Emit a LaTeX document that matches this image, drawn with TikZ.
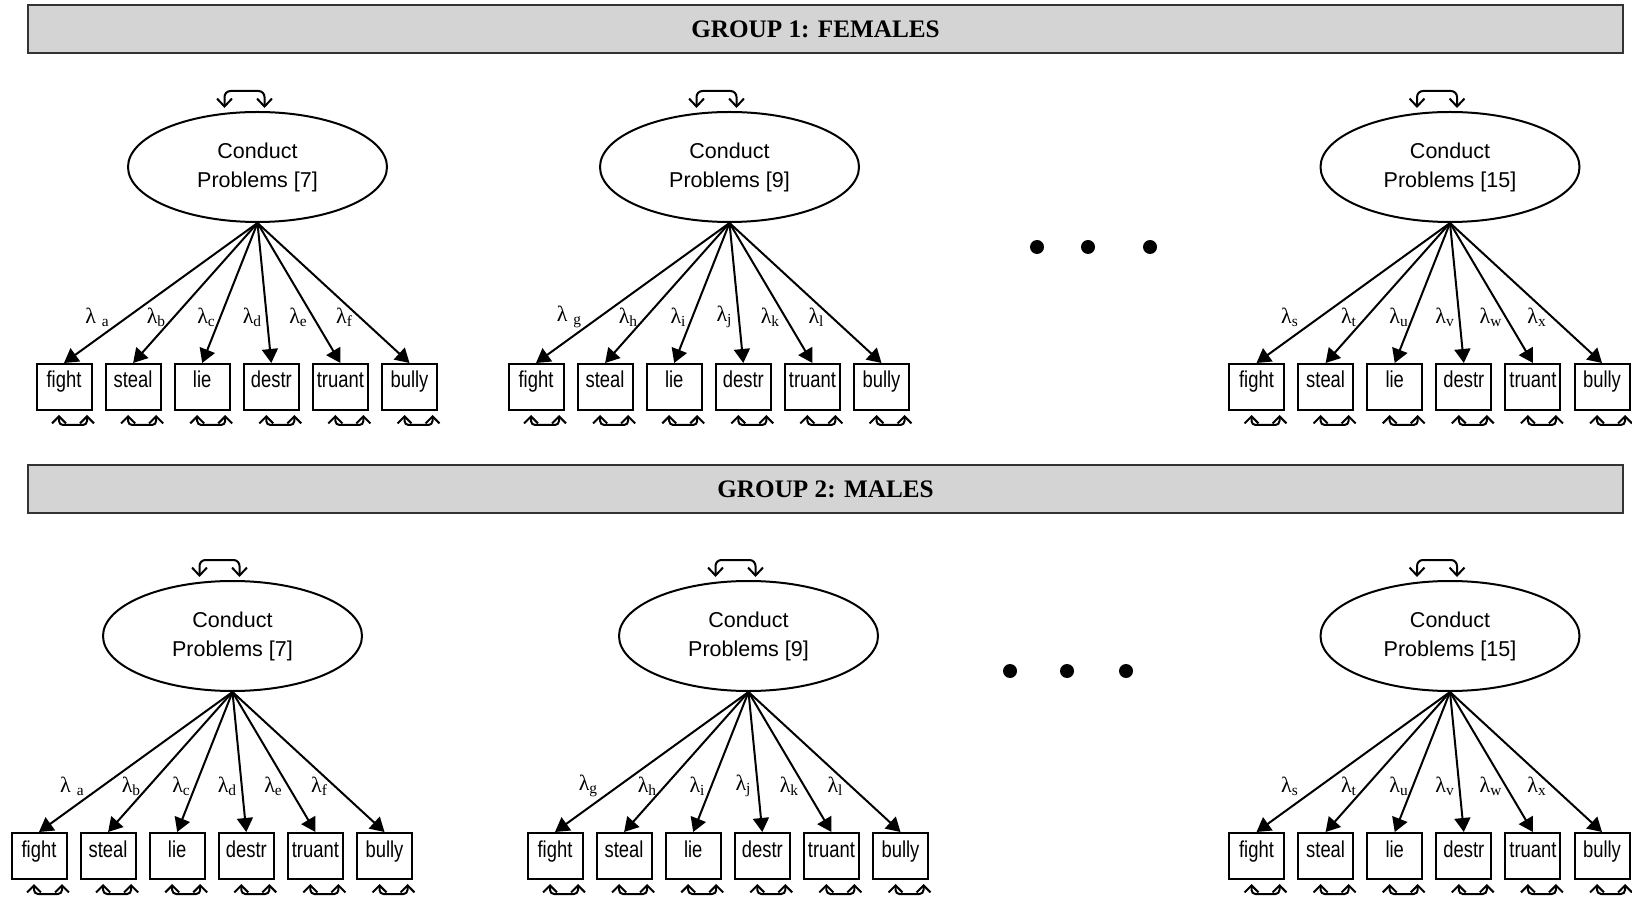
\documentclass[tikz,border=0pt]{standalone}
\usepackage{fontspec}
\setmainfont{Liberation Serif}
\newfontfamily\arialf{Liberation Sans}
\newfontfamily\narrowf[FakeStretch=0.8]{Liberation Sans}
\usetikzlibrary{shapes.geometric,arrows.meta,calc}
\tikzset{
 latent/.style={ellipse,draw,line width=1pt,minimum width=129.5pt,minimum height=55pt,inner sep=0pt,align=center,font=\arialf\fontsize{10.75}{14.5}\selectfont},
 obs/.style={rectangle,draw,line width=1pt,minimum width=27.5pt,minimum height=23pt,inner sep=0pt,text height=5.5pt,text depth=4.5pt,font=\narrowf\fontsize{11.5}{13}\selectfont},
 load/.style={line width=1pt,-{Triangle[length=7pt,width=8pt]}},
 varloop/.style={line width=1pt,rounded corners=3pt,{Straight Barb[length=4pt,width=7.5pt]}-{Straight Barb[length=4pt,width=7.5pt]}},
 errloop/.style={line width=1pt,rounded corners=2pt,{Straight Barb[length=3.5pt,width=7pt]}-{Straight Barb[length=3.5pt,width=7pt]}},
 lam/.style={font=\fontsize{11}{13}\selectfont,inner sep=0pt},
 banner/.style={draw=black!80,line width=1.2pt,fill=black!17,minimum width=797.5pt,minimum height=24pt,inner sep=0pt,font=\bfseries\fontsize{12.6}{14}\selectfont},
 blob/.style={circle,fill=black,inner sep=0pt,minimum size=7pt},
}
\newcommand\cpblock[5]{%
 \begin{scope}[shift={(#2,#3)}]
 \node[latent] (#1e) at (0,0) {Conduct\\Problems [#4]};
 \draw[varloop] ($(#1e.north)+(-33,-3)$) -- ++(0,-17) -- ++(40,0) -- ++(0,17);
 \foreach \lab [count=\i from 0] in {fight,steal,lie,destr,truant,bully}{
  \node[obs] (#1b\i) at ({-193.5+69.1*\i},220) {\lab};
  \draw[load] (#1e.south) -- (#1b\i.north);
  \draw[errloop] ($(#1b\i.south)+(-5,4)$) -- ++(0,10) -- ++(28,0) -- ++(0,-10);
 }
 \foreach \lsub [count=\i from 0] in {#5}{
  \pgfmathsetmacro\lx{{-160,-101,-51,-5,41,87}[\i]}
  \node[lam] (#1l\i) at (\lx,150) {λ\textsubscript{\lsub}};
 }
 \end{scope}}
\begin{document}
\begin{tikzpicture}[x=0.5pt,y=-0.5pt]
\useasboundingbox (0,0) rectangle (1632,897);
\node[banner] (g1) at (825.5,29) {\hspace*{-10pt}GROUP 1: FEMALES};
\node[banner] (g2) at (825.5,489) {GROUP 2: MALES};
\cpblock{a}{257.5}{167}{7}{{\hspace{3pt}a},b,c,d,e,f}
\cpblock{b}{729.5}{167}{9}{{\hspace{3pt}g},h,i,j,k,l}
\cpblock{c}{1450}{167}{15}{s,t,u,v,w,x}
\cpblock{d}{232.5}{636}{7}{{\hspace{3pt}a},b,c,d,e,f}
\cpblock{e}{748.5}{636}{9}{g,h,i,j,k,l}
\cpblock{f}{1450}{636}{15}{s,t,u,v,w,x}
\node[blob] (p1) at (1037,247) {};
\node[blob] (p2) at (1088,247) {};
\node[blob] (p3) at (1150,247) {};
\node[blob] (q1) at (1010,671) {};
\node[blob] (q2) at (1067,671) {};
\node[blob] (q3) at (1126,671) {};
\end{tikzpicture}
\end{document}
